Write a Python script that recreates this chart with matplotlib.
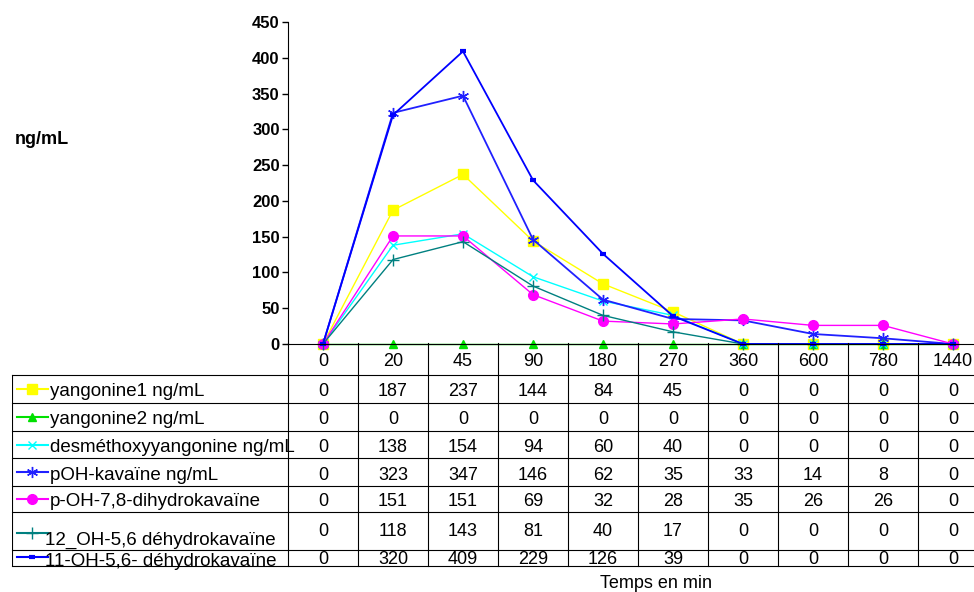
import matplotlib
matplotlib.use('Agg')
import matplotlib.pyplot as plt

plt.rcParams['font.family'] = ['Liberation Sans', 'DejaVu Sans']

# data
temps = ['0', '20', '45', '90', '180', '270', '360', '600', '780', '1440']
yangonine1 = [0, 187, 237, 144, 84, 45, 0, 0, 0, 0]
yangonine2 = [0, 0, 0, 0, 0, 0, 0, 0, 0, 0]
desmethoxy = [0, 138, 154, 94, 60, 40, 0, 0, 0, 0]
poh_kavaine = [0, 323, 347, 146, 62, 35, 33, 14, 8, 0]
poh_dihydro = [0, 151, 151, 69, 32, 28, 35, 26, 26, 0]
oh12 = [0, 118, 143, 81, 40, 17, 0, 0, 0, 0]
oh11 = [0, 320, 409, 229, 126, 39, 0, 0, 0, 0]

names = ['yangonine1 ng/mL', 'yangonine2 ng/mL', 'desméthoxyyangonine ng/mL',
         'pOH-kavaïne ng/mL', 'p-OH-7,8-dihydrokavaïne',
         '12_OH-5,6 déhydrokavaïne', '11-OH-5,6- déhydrokavaïne']
series = [yangonine1, yangonine2, desmethoxy, poh_kavaine, poh_dihydro, oh12, oh11]
colors = ['#FFFF00', '#00E000', '#00FFFF', '#2020FF', '#FF00FF', '#008080', '#0000FF']
markers = ['s', '^', 'x', (6, 2, 0), 'o', '+', '_']
msizes = [7, 6, 6, 8, 7, 8, 5]
mews = [1, 1, 1, 1, 1, 1, 3]
lws = [1, 1, 1, 1.3, 1, 1, 1.3]

W, H = 974, 592
fig = plt.figure(figsize=(W / 100, H / 100), dpi=100)

# main plot area (right side runs off the canvas like the original)
ax = fig.add_axes([288 / W, (H - 344) / H, 700 / W, 322 / H])
x = list(range(len(temps)))
for s, c, m, ms, mw, lw in zip(series, colors, markers, msizes, mews, lws):
    ax.plot(x, s, color=c, marker=m, markersize=ms, markeredgewidth=mw,
            linewidth=lw, clip_on=False)
ax.set_xlim(-0.5, 9.5)
ax.set_ylim(0, 450)
ax.set_yticks(range(0, 451, 50))
ax.set_xticks([])
for lab in ax.get_yticklabels():
    lab.set_fontweight('bold')
    lab.set_fontsize(12)
ax.tick_params(axis='y', length=4, width=1, pad=2)
ax.spines['top'].set_visible(False)
ax.spines['right'].set_visible(False)
ax.spines['left'].set_color('black')
ax.spines['bottom'].set_color('black')

fig.text(42 / W, 1 - 140 / H, 'ng/mL', fontsize=13, fontweight='bold',
         ha='center', va='center')
fig.text(656 / W, 1 - 583 / H, 'Temps en min', fontsize=13, ha='center', va='center')

# data table below the plot
x0 = -0.5 - (288 - 12) / 70.0
tab = fig.add_axes([12 / W, (H - 566) / H, 976 / W, 223 / H])
tab.set_xlim(x0, 9.5)
tab.set_ylim(566, 343)
tab.axis('off')


def px(p):
    return x0 + (p - 12) / 70.0


edges = [375, 403, 431, 458, 486, 512, 550, 566]
text_y = [392, 420, 447, 475, 502, 532, 559]
leg_line_y = [389, 417, 445, 472, 499, 533, 557]
leg_text_y = [392, 420, 447, 475, 502, 540, 562]
leg_text_x = [50, 50, 50, 50, 50, 45, 45]

for e in edges:
    tab.plot([x0, 9.5], [e, e], color='black', linewidth=0.8, clip_on=False)
for k in range(11):
    tab.plot([k - 0.5, k - 0.5], [343, 566], color='black', linewidth=0.8, clip_on=False)
tab.plot([x0, x0], [375, 566], color='black', linewidth=0.8)

for i, t in enumerate(temps):
    tab.text(i, 361, t, ha='center', va='center', fontsize=13)

for r, (n, s) in enumerate(zip(names, series)):
    ly = leg_line_y[r]
    tab.plot([px(17), px(48)], [ly, ly], color=colors[r], linewidth=1.5,
             marker=None)
    tab.plot([px(32)], [ly], color=colors[r], marker=markers[r],
             markersize=msizes[r], markeredgewidth=mews[r])
    tab.text(px(leg_text_x[r]), leg_text_y[r], n, ha='left', va='center',
             fontsize=13.5, clip_on=False)
    for i, v in enumerate(s):
        tab.text(i, text_y[r], str(v), ha='center', va='center', fontsize=13)

fig.savefig('out.png', dpi=100)
